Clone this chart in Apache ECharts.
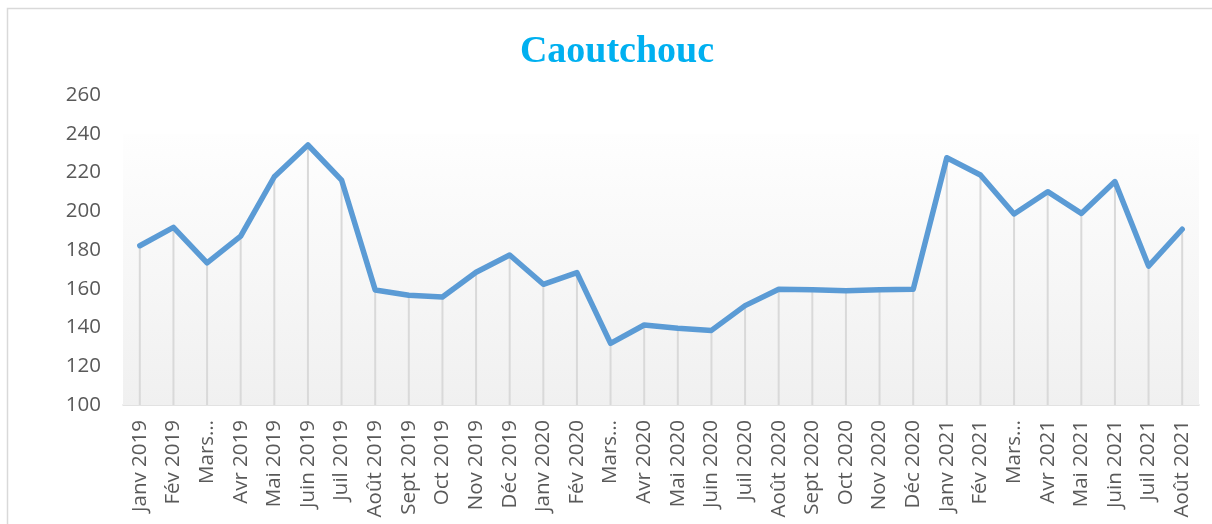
<!DOCTYPE html>
<html>
<head>
<meta charset="utf-8">
<script src="https://cdn.jsdelivr.net/npm/echarts@6/dist/echarts.min.js"></script>
<style>
  html, body { margin: 0; padding: 0; background: #fff; }
  #chart { width: 1212px; height: 524px; }
</style>
</head>
<body>
<div id="chart"></div>
<script>
const months = ['Janv 2019', 'Fév 2019', 'Mars 2019', 'Avr 2019', 'Mai 2019', 'Juin 2019', 'Juil 2019', 'Août 2019',
  'Sept 2019', 'Oct 2019', 'Nov 2019', 'Déc 2019', 'Janv 2020', 'Fév 2020', 'Mars 2020', 'Avr 2020',
  'Mai 2020', 'Juin 2020', 'Juil 2020', 'Août 2020', 'Sept 2020', 'Oct 2020', 'Nov 2020', 'Déc 2020',
  'Janv 2021', 'Fév 2021', 'Mars 2021', 'Avr 2021', 'Mai 2021', 'Juin 2021', 'Juil 2021', 'Août 2021']
// labels as printed under the axis (Excel cut the March ones)
const tickLabels = ['Janv 2019', 'Fév 2019', 'Mars…', 'Avr 2019', 'Mai 2019', 'Juin 2019', 'Juil 2019', 'Août 2019',
  'Sept 2019', 'Oct 2019', 'Nov 2019', 'Déc 2019', 'Janv 2020', 'Fév 2020', 'Mars…', 'Avr 2020',
  'Mai 2020', 'Juin 2020', 'Juil 2020', 'Août 2020', 'Sept 2020', 'Oct 2020', 'Nov 2020', 'Déc 2020',
  'Janv 2021', 'Fév 2021', 'Mars…', 'Avr 2021', 'Mai 2021', 'Juin 2021', 'Juil 2021', 'Août 2021']
const prix = [182.2, 191.7, 173.4, 187.2, 217.8, 234.2, 216.1, 159.4, 156.6, 155.7, 168.5, 177.4,
  162.3, 168.3, 131.8, 141.3, 139.6, 138.5, 151.3, 159.7, 159.5, 159.0, 159.5, 159.7,
  227.6, 218.7, 198.6, 210.1, 198.9, 215.3, 171.7, 190.7]
const yTicks = { min: 100, max: 260, step: 20 }

const chart = echarts.init(document.getElementById('chart'))
chart.setOption({
  animation: false,
  title: {
    text: 'Caoutchouc',
    left: 612,
    textAlign: 'center',
    top: 28,
    textStyle: {
      fontFamily: 'Liberation Serif',
      fontWeight: 'bold',
      fontSize: 38,
      color: '#00b0f0',
    },
  },
  graphic: [{
    type: 'rect',
    shape: { x: 7.5, y: 8.5, width: 1220, height: 530 },
    style: { fill: 'none', stroke: '#d9d9d9', lineWidth: 1.5 },
    silent: true,
  }],
  grid: {
    left: 123,
    right: 13,
    top: 95,
    bottom: 119,
  },
  xAxis: {
    type: 'category',
    data: months,
    boundaryGap: true,
    axisLine: { lineStyle: { color: '#d9d9d9', width: 1.5 } },
    axisTick: { show: false },
    axisLabel: {
      rotate: 90,
      interval: 0,
      margin: 15,
      color: '#595959',
      fontFamily: 'Open Sans',
      fontSize: 20.5,
      formatter: (v, i) => tickLabels[i],
    },
  },
  yAxis: {
    type: 'value',
    min: yTicks.min,
    max: yTicks.max,
    interval: yTicks.step,
    axisLine: { show: false },
    axisTick: { show: false },
    splitLine: { show: false },
    axisLabel: {
      margin: 22,
      color: '#595959',
      fontFamily: 'Open Sans',
      fontSize: 20.5,
    },
  },
  series: [
    {
      // drop lines from each point down to the axis
      type: 'bar',
      data: prix,
      barWidth: 2,
      itemStyle: { color: '#d9d9d9' },
      silent: true,
      z: 2,
      markArea: {
        silent: true,
        itemStyle: {
          color: new echarts.graphic.LinearGradient(0, 0, 0, 1, [
            { offset: 0, color: '#fefefe' },
            { offset: 1, color: '#f0f0f0' },
          ]),
        },
        data: [[{ yAxis: 240 }, { yAxis: 100 }]],
      },
    },
    {
      type: 'line',
      data: prix,
      symbol: 'none',
      lineStyle: { color: '#5b9bd5', width: 5.5, join: 'round', cap: 'round' },
      z: 3,
    },
  ],
})
</script>
</body>
</html>
